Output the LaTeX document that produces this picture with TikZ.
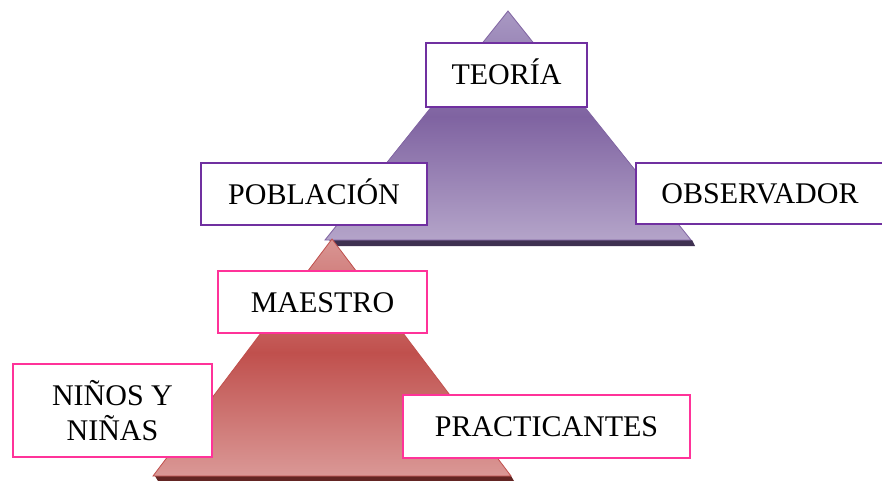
\documentclass[tikz,border=0pt]{standalone}
\usepackage{fontspec}
\setmainfont{Liberation Serif}
\definecolor{pT}{HTML}{A999C3}
\definecolor{pM}{HTML}{7F63A1}
\definecolor{pB}{HTML}{B4A4C9}
\definecolor{pLine}{HTML}{8064A2}
\definecolor{pShadow}{HTML}{3F3151}
\definecolor{pBox}{HTML}{7030A0}
\definecolor{rT}{HTML}{D99694}
\definecolor{rM}{HTML}{C0504D}
\definecolor{rB}{HTML}{DA9896}
\definecolor{rLine}{HTML}{C0504D}
\definecolor{rShadow}{HTML}{632523}
\definecolor{rBox}{HTML}{FF3399}
\pgfdeclareverticalshading{purplegrad}{100bp}{color(0bp)=(pB); color(25bp)=(pB); color(52bp)=(pM); color(75bp)=(pT); color(100bp)=(pT)}
\pgfdeclareverticalshading{redgrad}{100bp}{color(0bp)=(rB); color(25bp)=(rB); color(51bp)=(rM); color(75bp)=(rT); color(100bp)=(rT)}
\tikzset{
  lblbase/.style={draw, fill=white, line width=2pt, inner sep=0pt,
    font=\fontsize{30}{35}\selectfont, align=center},
  lbl/.style={lblbase, text height=20pt, text depth=0pt},
  pbox/.style={lbl, draw=pBox},
  rbox/.style={lbl, draw=rBox},
  rboxtwo/.style={lblbase, draw=rBox},
}
\begin{document}
\begin{tikzpicture}[x=1pt, y=-1pt]
\useasboundingbox (0,0) rectangle (882,481);
% top (purple) triangle
\fill[pShadow] (329,240) -- (692,240) -- (695,246) -- (335,246) -- cycle;
\shade[shading=purplegrad, draw=pLine, line width=0.8pt] (508,11) -- (691,240) -- (325,240) -- cycle;
% bottom (red) triangle
\fill[rShadow] (155,476) -- (511,476) -- (514,481) -- (158,481) -- cycle;
\shade[shading=redgrad, draw=rLine, line width=0.8pt] (332,239) -- (511,476) -- (153,476) -- cycle;
% labels
\node[pbox, minimum width=161pt, minimum height=64pt] (teoria) at (506.5,75) {TEORÍA};
\node[pbox, minimum width=226pt, minimum height=62pt] (poblacion) at (314,194) {POBLACIÓN};
\node[pbox, minimum width=248pt, minimum height=61pt] (observador) at (760,193.5) {OBSERVADOR};
\node[rbox, minimum width=209pt, minimum height=62pt] (maestro) at (322.5,302) {MAESTRO};
\node[rboxtwo, minimum width=199pt, minimum height=93pt] (ninos) at (112.5,410.5) {NIÑOS Y\\NIÑAS};
\node[rbox, minimum width=287pt, minimum height=63pt] (practicantes) at (546.5,426.5) {PRACTICANTES};
\end{tikzpicture}
\end{document}
